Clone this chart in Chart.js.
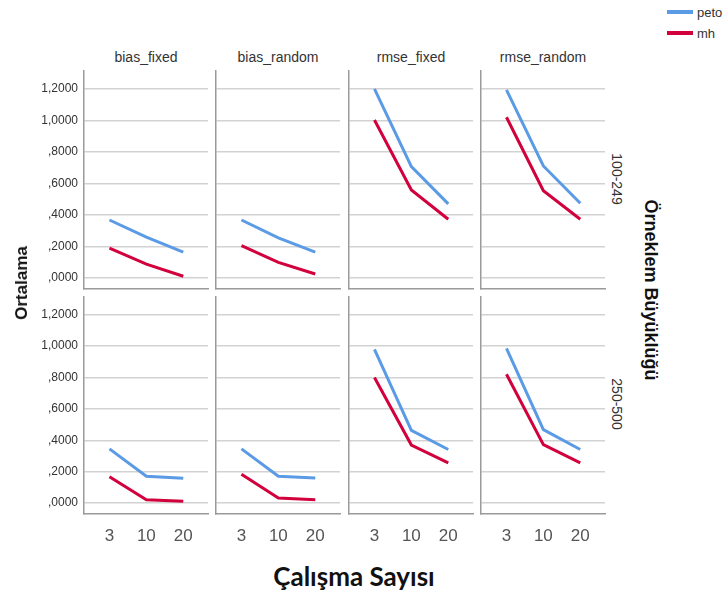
<!DOCTYPE html>
<html>
<head>
<meta charset="utf-8">
<script src="https://cdn.jsdelivr.net/npm/chart.js@4/dist/chart.umd.min.js"></script>
<style>
  body { margin: 0; background: #fff; }
  #wrap { position: relative; width: 726px; height: 592px; overflow: hidden; font-family: "Liberation Sans", Arial, sans-serif; }
  #wrap canvas { position: absolute; }
  .lbl { position: absolute; white-space: nowrap; color: #333; transform: translate(-50%, -50%); }
  .rot90 { transform: translate(-50%, -50%) rotate(90deg); }
  .rotm90 { transform: translate(-50%, -50%) rotate(-90deg); }
  .key { position: absolute; width: 26px; height: 4px; }
</style>
</head>
<body>
<div id="wrap"></div>
<script>
// categories
const studyCounts = ['3', '10', '20'];
const measures = ['bias_fixed', 'bias_random', 'rmse_fixed', 'rmse_random'];
const sampleSizes = ['100-249', '250-500'];
const yTicks = [0, 0.2, 0.4, 0.6, 0.8, 1.0, 1.2];

// means, one row per measure (bias_fixed, bias_random, rmse_fixed, rmse_random)
const peto100 = [[0.368, 0.259, 0.164], [0.368, 0.255, 0.164], [1.200, 0.707, 0.470], [1.194, 0.711, 0.474]];
const mh100   = [[0.189, 0.088, 0.011], [0.206, 0.099, 0.025], [1.003, 0.559, 0.373], [1.020, 0.554, 0.373]];
const peto250 = [[0.345, 0.171, 0.158], [0.345, 0.171, 0.160], [0.980, 0.463, 0.341], [0.986, 0.468, 0.341]];
const mh250   = [[0.168, 0.021, 0.011], [0.183, 0.032, 0.021], [0.800, 0.370, 0.256], [0.821, 0.372, 0.256]];

const petoColor = '#5b9be6';
const mhColor = '#d2003c';

const wrap = document.getElementById('wrap');

// panel geometry
const colLeft = [84, 216, 349, 481];
const panelW = 124;
const rowTop = [70, 296];
const panelH = [219, 218];

function fmt(v) {
  let s = v.toFixed(4).replace('.', ',');
  if (s.startsWith('0,')) s = s.slice(1);
  return s;
}

function addLabel(text, x, y, css, cls) {
  const d = document.createElement('div');
  d.className = 'lbl' + (cls ? ' ' + cls : '');
  d.textContent = text;
  d.style.left = x + 'px';
  d.style.top = y + 'px';
  Object.assign(d.style, css || {});
  wrap.appendChild(d);
}

function makePanel(row, col) {
  const petoVals = row === 0 ? peto100[col] : peto250[col];
  const mhVals = row === 0 ? mh100[col] : mh250[col];
  const yW = col === 0 ? 84 : 2;
  const xH = row === 1 ? 40 : 2;

  const canvas = document.createElement('canvas');
  canvas.width = yW + panelW + 2;
  canvas.height = panelH[row] + xH;
  canvas.style.left = (colLeft[col] - yW) + 'px';
  canvas.style.top = rowTop[row] + 'px';
  wrap.appendChild(canvas);

  new Chart(canvas.getContext('2d'), {
    type: 'line',
    data: {
      datasets: [{
        label: 'peto',
        data: petoVals.map((v, i) => ({ x: i, y: v })),
        borderColor: petoColor,
        borderWidth: 3
      }, {
        label: 'mh',
        data: mhVals.map((v, i) => ({ x: i, y: v })),
        borderColor: mhColor,
        borderWidth: 3
      }]
    },
    options: {
      responsive: false,
      animation: false,
      layout: { padding: { left: 0, right: 2, top: 0, bottom: 0 } },
      elements: { point: { radius: 0 }, line: { tension: 0, borderCapStyle: 'butt' } },
      plugins: { legend: { display: false }, tooltip: { enabled: false } },
      scales: {
        x: {
          type: 'linear',
          min: -0.69,
          max: 2.67,
          afterBuildTicks: (scale) => { scale.ticks = studyCounts.map((c, i) => ({ value: i })); },
          afterFit: (scale) => {
            scale.height = xH;
            scale.paddingLeft = 0;
            scale.paddingRight = 0;
          },
          grid: { display: false, drawTicks: false },
          border: { display: true, color: '#9a9a9a', width: 1.5 },
          ticks: {
            display: row === 1,
            padding: 12,
            autoSkip: false,
            maxRotation: 0,
            color: '#555',
            font: { family: '"Liberation Sans", Arial, sans-serif', size: 17 },
            callback: (v) => studyCounts[v]
          }
        },
        y: {
          min: -0.07,
          max: 1.32,
          afterBuildTicks: (scale) => { scale.ticks = yTicks.map(v => ({ value: v })); },
          afterFit: (scale) => {
            scale.width = yW;
            scale.paddingTop = 0;
            scale.paddingBottom = 0;
          },
          grid: { color: '#d2d2d2', lineWidth: 1.5, drawTicks: false },
          border: { display: true, color: '#9a9a9a', width: 1.5 },
          ticks: {
            display: col === 0,
            padding: 6,
            color: '#333',
            font: { family: '"Liberation Sans", Arial, sans-serif', size: 12 },
            callback: (v) => fmt(v)
          }
        }
      }
    }
  });
}

for (let r = 0; r < sampleSizes.length; r++) {
  for (let c = 0; c < measures.length; c++) {
    makePanel(r, c);
  }
}

// column titles
measures.forEach((m, c) => addLabel(m, colLeft[c] + panelW / 2, 57, { fontSize: '14px' }));

// row labels
sampleSizes.forEach((s, r) => addLabel(s, 617, rowTop[r] + panelH[r] / 2 - 1, { fontSize: '14px' }, 'rot90'));

// axis titles
addLabel('Örneklem Büyüklüğü', 650, 290, { fontSize: '18px', fontWeight: 'bold', color: '#111' }, 'rot90');
addLabel('Ortalama', 22, 283, { fontSize: '17px', fontWeight: 'bold', color: '#111' }, 'rotm90');
addLabel('Çalışma Sayısı', 354, 576, { fontSize: '26px', fontWeight: 'bold', color: '#111', fontFamily: 'Lato, sans-serif' });

// legend
[['peto', petoColor, 12], ['mh', mhColor, 33]].forEach(([name, color, y]) => {
  const k = document.createElement('div');
  k.className = 'key';
  k.style.left = '667px';
  k.style.top = (y - 2) + 'px';
  k.style.background = color;
  wrap.appendChild(k);
  addLabel(name, 697, y, { fontSize: '13px', transform: 'translate(0, -50%)' });
});
</script>
</body>
</html>
